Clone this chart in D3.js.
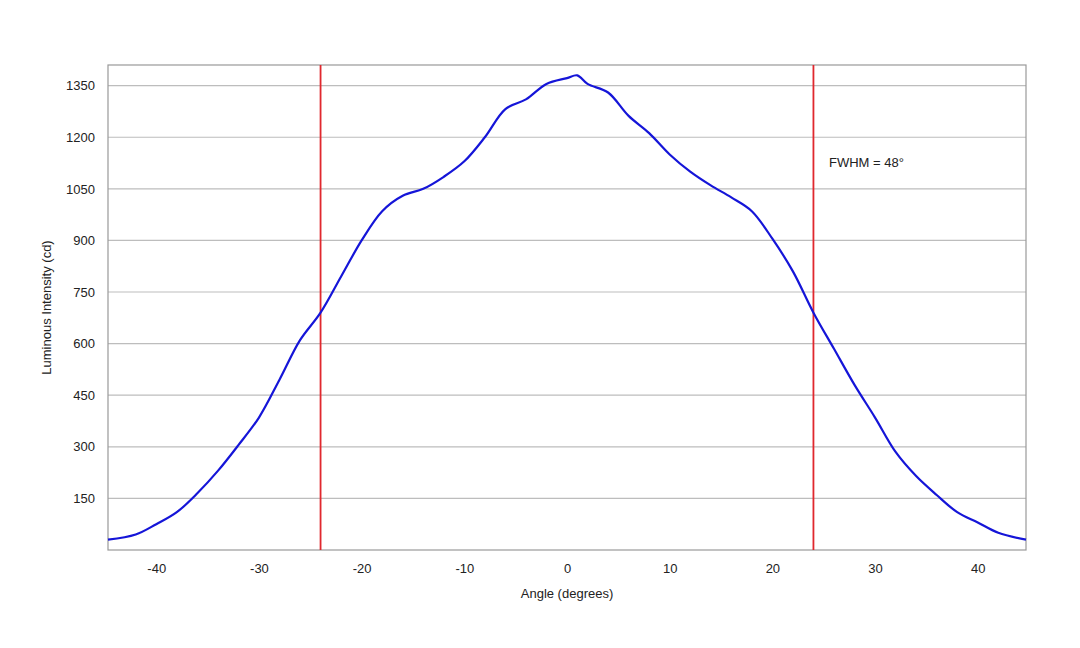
<!DOCTYPE html>
<html>
<head>
<meta charset="UTF-8">
<script src="https://cdn.jsdelivr.net/npm/d3@7"></script>
<style>
body { margin: 0; background: #fff; }
text { font-family: "Liberation Sans", Arial, sans-serif; fill: #222; }
</style>
</head>
<body>
<svg id="chart" width="1080" height="648"></svg>
<script>
// intensity profile
var angles = [-44.7, -42, -40, -38, -36, -34, -32, -30, -28, -26, -24, -22, -20, -18, -16, -14, -12, -10, -8, -6, -4, -2, 0, 1, 2, 4, 6, 8, 10, 12, 14, 16, 18, 20, 22, 24, 26, 28, 30, 32, 34, 36, 38, 40, 42, 44.7];
var intensity = [30, 45, 75, 110, 165, 230, 305, 385, 495, 610, 690, 795, 900, 985, 1030, 1050, 1085, 1130, 1200, 1282, 1310, 1355, 1372, 1380, 1355, 1330, 1262, 1212, 1150, 1100, 1060, 1025, 985, 905, 810, 690, 585, 480, 385, 285, 215, 160, 110, 80, 50, 30];
var xTicks = [-40, -30, -20, -10, 0, 10, 20, 30, 40];
var yTicks = [150, 300, 450, 600, 750, 900, 1050, 1200, 1350];
var fwhm = [-24, 24];

var svg = d3.select("#chart");
var L = 108, R = 1026, T = 65, B = 550;
var x = d3.scaleLinear().domain([-44.7, 44.7]).range([L, R]);
var y = d3.scaleLinear().domain([0, 1410]).range([B, T]);

svg.append("g").selectAll("line").data(yTicks).join("line")
  .attr("x1", L).attr("x2", R).attr("y1", d => y(d)).attr("y2", d => y(d))
  .attr("stroke", "#bdbdbd").attr("stroke-width", 1.2);

svg.append("rect").attr("x", L).attr("y", T).attr("width", R - L).attr("height", B - T)
  .attr("fill", "none").attr("stroke", "#999").attr("stroke-width", 1.2);

var xAxis = svg.append("g").attr("transform", "translate(0," + B + ")")
  .call(d3.axisBottom(x).tickValues(xTicks).tickFormat(d => String(d)).tickSize(0).tickPadding(14));
xAxis.select(".domain").remove();
xAxis.selectAll("text").style("font-size", "13px").attr("fill", "#222");

var yAxis = svg.append("g").attr("transform", "translate(" + L + ",0)")
  .call(d3.axisLeft(y).tickValues(yTicks).tickFormat(d => String(d)).tickSize(0).tickPadding(13));
yAxis.select(".domain").remove();
yAxis.selectAll("text").style("font-size", "13px").attr("fill", "#222");

svg.append("g").selectAll("line").data(fwhm).join("line")
  .attr("x1", d => x(d)).attr("x2", d => x(d)).attr("y1", T).attr("y2", B)
  .attr("stroke", "#e0282e").attr("stroke-width", 1.8);

svg.append("path").datum(angles.map((a, i) => [a, intensity[i]]))
  .attr("fill", "none").attr("stroke", "#1515d8").attr("stroke-width", 2.2)
  .attr("d", d3.line().x(d => x(d[0])).y(d => y(d[1])).curve(d3.curveCatmullRom));

svg.append("text").attr("x", 829).attr("y", 167).style("font-size", "13px").text("FWHM = 48°");
svg.append("text").attr("x", (L + R) / 2).attr("y", 598).attr("text-anchor", "middle")
  .style("font-size", "13px").text("Angle (degrees)");
svg.append("text").attr("transform", "translate(51," + (T + B) / 2 + ") rotate(-90)")
  .attr("text-anchor", "middle").style("font-size", "13px").text("Luminous Intensity (cd)");
</script>
</body>
</html>
